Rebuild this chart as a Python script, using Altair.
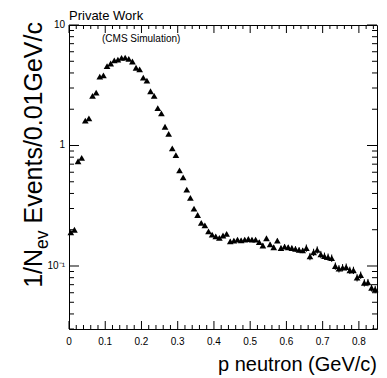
import altair as alt
import pandas as pd

W, H = 308, 304

p_centers = [0.005, 0.015, 0.025, 0.035, 0.045, 0.055, 0.065, 0.075, 0.085, 0.095,
             0.105, 0.115, 0.125, 0.135, 0.145, 0.155, 0.165, 0.175, 0.185, 0.195,
             0.205, 0.215, 0.225, 0.235, 0.245, 0.255, 0.265, 0.275, 0.285, 0.295,
             0.305, 0.315, 0.325, 0.335, 0.345, 0.355, 0.365, 0.375, 0.385, 0.395,
             0.405, 0.415, 0.425, 0.435, 0.445, 0.455, 0.465, 0.475, 0.485, 0.495,
             0.505, 0.515, 0.525, 0.535, 0.545, 0.555, 0.565, 0.575, 0.585, 0.595,
             0.605, 0.615, 0.625, 0.635, 0.645, 0.655, 0.665, 0.675, 0.685, 0.695,
             0.705, 0.715, 0.725, 0.735, 0.745, 0.755, 0.765, 0.775, 0.785, 0.795,
             0.805, 0.815, 0.825, 0.835, 0.845]

values = [0.19, 0.20, 0.74, 0.79, 1.61, 1.68, 2.58, 2.75, 3.73, 3.82,
          4.55, 4.79, 5.09, 5.16, 5.33, 5.37, 5.24, 4.98, 4.42, 4.28,
          3.66, 3.45, 2.82, 2.58, 2.04, 1.85, 1.43, 1.25, 0.945, 0.833,
          0.621, 0.543, 0.43, 0.368, 0.299, 0.265, 0.228, 0.217, 0.194, 0.182,
          0.176, 0.171, 0.179, 0.185, 0.160, 0.1625, 0.1655, 0.163, 0.1655, 0.1675,
          0.1655, 0.1655, 0.158, 0.148, 0.170, 0.151, 0.143, 0.1625, 0.141, 0.145,
          0.143, 0.141, 0.1387, 0.136, 0.1346, 0.141, 0.120, 0.130, 0.136, 0.1247,
          0.1208, 0.1186, 0.1164, 0.100, 0.095, 0.0969, 0.098, 0.0922, 0.0922, 0.080,
          0.084, 0.0726, 0.073, 0.066, 0.064]

rel_err = [0.03, 0.03, 0.015, 0.015, 0.01, 0.01, 0.01, 0.01, 0.01, 0.01,
           0.01, 0.01, 0.01, 0.01, 0.01, 0.01, 0.01, 0.01, 0.01, 0.01,
           0.01, 0.01, 0.01, 0.01, 0.01, 0.01, 0.015, 0.015, 0.015, 0.015,
           0.02, 0.02, 0.02, 0.02, 0.025, 0.025, 0.03, 0.03, 0.03, 0.03,
           0.03, 0.03, 0.03, 0.03, 0.035, 0.035, 0.035, 0.035, 0.035, 0.035,
           0.035, 0.035, 0.04, 0.04, 0.04, 0.04, 0.04, 0.04, 0.045, 0.045,
           0.045, 0.045, 0.05, 0.05, 0.05, 0.07, 0.07, 0.07, 0.07, 0.07,
           0.07, 0.07, 0.07, 0.07, 0.07, 0.07, 0.07, 0.07, 0.07, 0.07,
           0.07, 0.07, 0.07, 0.07, 0.07]

x_major = [0.0, 0.1, 0.2, 0.3, 0.4, 0.5, 0.6, 0.7, 0.8]
x_major_labels = ["0", "0.1", "0.2", "0.3", "0.4", "0.5", "0.6", "0.7", "0.8"]
x_minor = [0.02, 0.04, 0.06, 0.08, 0.12, 0.14, 0.16, 0.18, 0.22, 0.24, 0.26, 0.28,
           0.32, 0.34, 0.36, 0.38, 0.42, 0.44, 0.46, 0.48, 0.52, 0.54, 0.56, 0.58,
           0.62, 0.64, 0.66, 0.68, 0.72, 0.74, 0.76, 0.78, 0.82, 0.84]
y_major = [0.1, 1, 10]
y_major_labels = ["10\u207b\u00b9", "1", "10"]
y_minor = [0.03, 0.04, 0.05, 0.06, 0.07, 0.08, 0.09,
           0.2, 0.3, 0.4, 0.5, 0.6, 0.7, 0.8, 0.9,
           2, 3, 4, 5, 6, 7, 8, 9]

x_domain = [0.0, 0.85]
y_domain = [0.03, 10]

FONT = "Liberation Sans"

df = pd.DataFrame({"p": p_centers, "v": values, "e": rel_err})
df["lo"] = df["v"] * (1 - df["e"])
df["hi"] = df["v"] * (1 + df["e"])

xs = alt.Scale(domain=x_domain, nice=False, zero=False)
ys = alt.Scale(type="log", domain=y_domain, nice=False)


def xticks(vals, length, top):
    d = pd.DataFrame({"xt": vals})
    yc = length / 2 if top else H - length / 2
    return alt.Chart(d).mark_tick(color="black", thickness=1, orient="vertical",
                                  size=length, opacity=1).encode(
        x=alt.X("xt:Q", scale=xs, axis=None),
        y=alt.value(yc))


def yticks(vals, length, right):
    d = pd.DataFrame({"yt": vals})
    xc = W - length / 2 if right else length / 2
    return alt.Chart(d).mark_tick(color="black", thickness=1, orient="horizontal",
                                  size=length, opacity=1).encode(
        y=alt.Y("yt:Q", scale=ys, axis=None),
        x=alt.value(xc))


ticks = [
    xticks(x_major, 8, False), xticks(x_minor, 4, False),
    xticks(x_major, 8, True), xticks(x_minor, 4, True),
    yticks(y_major, 10, False), yticks(y_minor, 5, False),
    yticks(y_major, 10, True), yticks(y_minor, 5, True),
]

errors = alt.Chart(df).mark_rule(color="black", strokeWidth=1).encode(
    x=alt.X("p:Q", scale=xs, axis=None),
    y=alt.Y("lo:Q", scale=ys, axis=None),
    y2="hi:Q",
)

points = alt.Chart(df).mark_point(shape="triangle-up", filled=True, size=45,
                                   color="black", opacity=1).encode(
    x=alt.X("p:Q", scale=xs, axis=None),
    y=alt.Y("v:Q", scale=ys, axis=None),
)

xlab = alt.Chart(pd.DataFrame({"lv": x_major, "lt": x_major_labels})).mark_text(
    font=FONT, fontSize=10, align="center", baseline="alphabetic", color="black").encode(
    x=alt.X("lv:Q", scale=xs, axis=None), y=alt.value(H + 16), text="lt:N")

ylab = alt.Chart(pd.DataFrame({"lv": y_major, "lt": y_major_labels})).mark_text(
    font=FONT, fontSize=10, align="right", baseline="middle", color="black").encode(
    y=alt.Y("lv:Q", scale=ys, axis=None), x=alt.value(-4), text="lt:N")


def label(text, x, y, size, align="left", angle=0):
    return alt.Chart(pd.DataFrame({"s": [text]})).mark_text(
        font=FONT, fontSize=size, align=align, baseline="alphabetic",
        angle=angle, color="black").encode(
        text="s:N", x=alt.value(x), y=alt.value(y))


TS = 25.0
SUB = 17.5
ytx = -27
y_top = -3
w_events = 8.06 * TS
w_space = 0.278 * TS
w_sub = 1.056 * SUB
title_x = label("p neutron (GeV/c)", W, 346, 20, align="right")
yt1 = label("Events/0.01GeV/c", ytx, y_top, TS, align="right", angle=270)
yt2 = label("ev", ytx + 6, y_top + w_events + w_space, SUB, align="right", angle=270)
yt3 = label("1/N", ytx, y_top + w_events + w_space + w_sub, TS, align="right", angle=270)
private = label("Private Work", 0, -5, 13)
cms = label("(CMS Simulation)", 33, 17, 10)

chart = alt.layer(
    *ticks, errors, points, xlab, ylab, title_x, yt1, yt2, yt3, private, cms
).properties(
    width=W, height=H,
    autosize=alt.AutoSizeParams(type="none"),
    padding={"left": 61, "top": 17, "right": 2, "bottom": 49},
    background="white",
).configure_view(stroke="black", strokeWidth=1)

chart.save("out.html", embed_options={"renderer": "svg", "actions": False})
